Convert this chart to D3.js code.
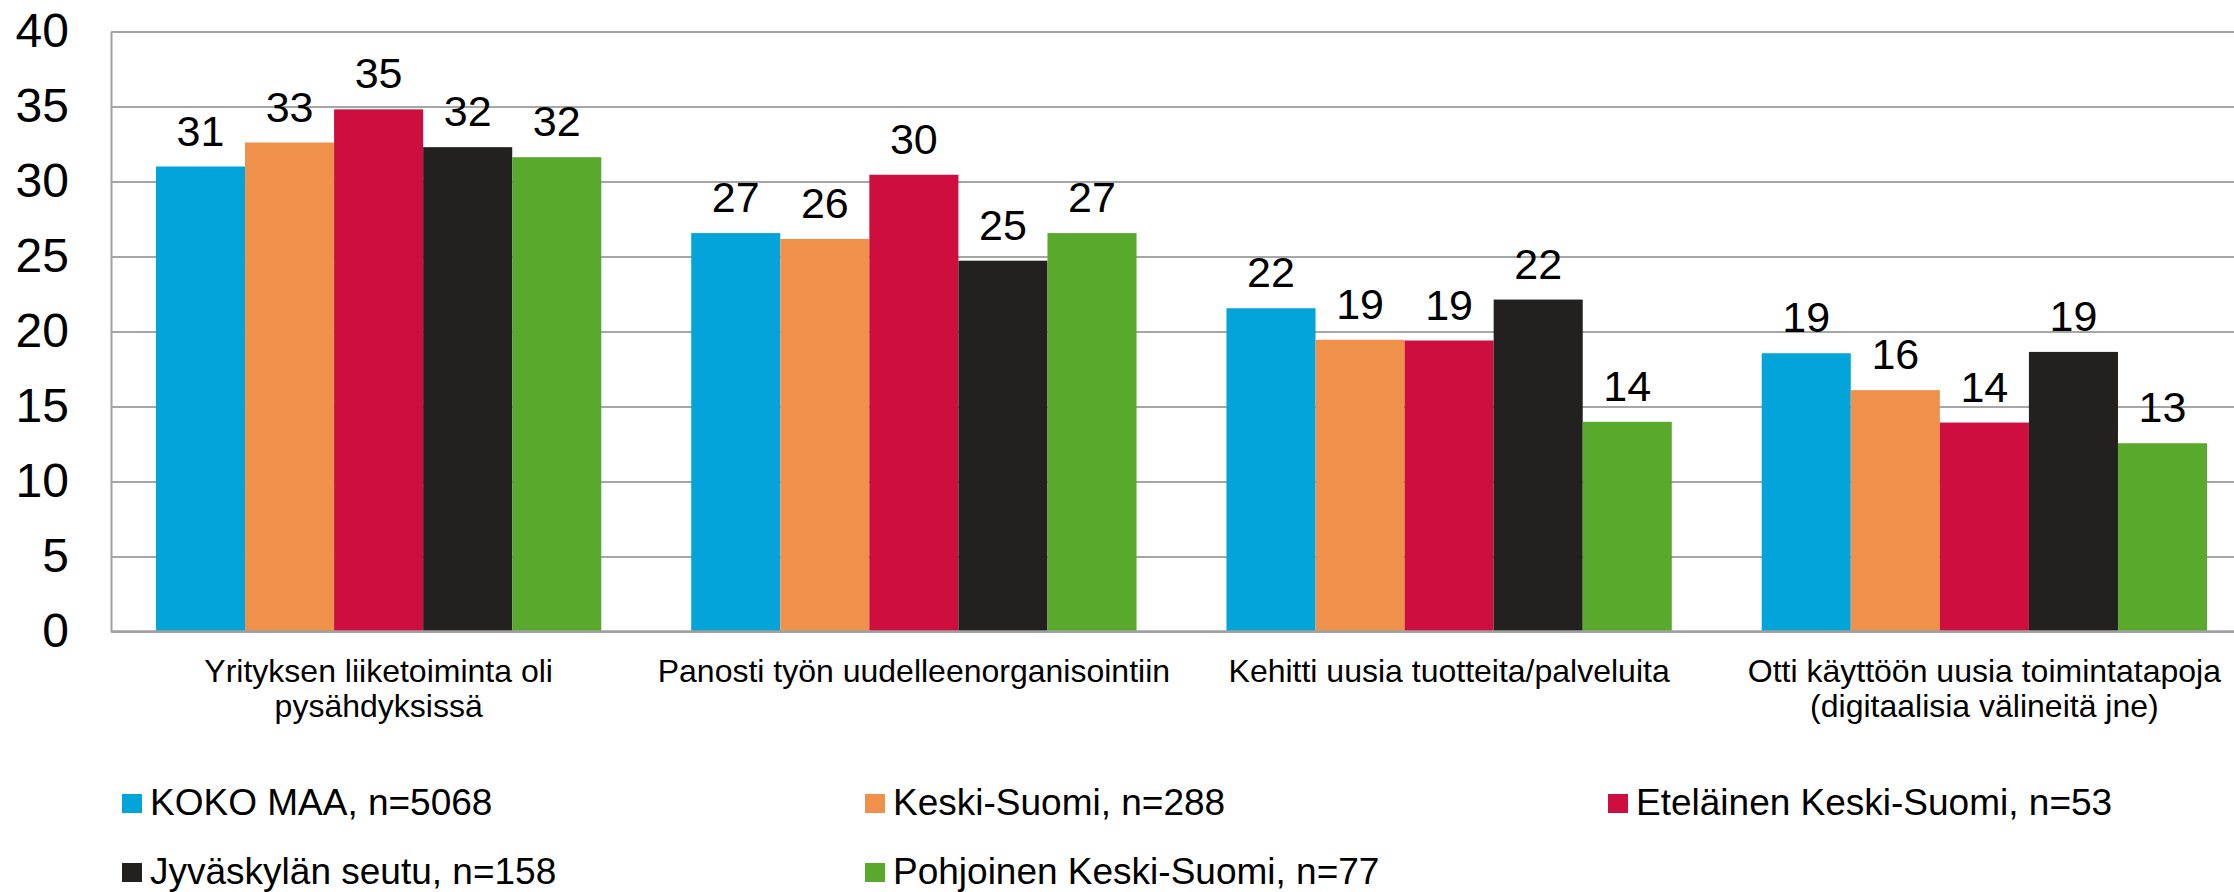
<!DOCTYPE html>
<html>
<head>
<meta charset="utf-8">
<script src="https://cdn.jsdelivr.net/npm/d3@7"></script>
<style>
  body { margin: 0; background: #fff; }
  text { font-family: "Liberation Sans", Arial, sans-serif; fill: #000; }
</style>
</head>
<body>
<div class="chart"></div>
<script>
// data
var categories = ["c1", "c2", "c3", "c4"];
var categoryLines = [
  ["Yrityksen liiketoiminta oli", "pysähdyksissä"],
  ["Panosti työn uudelleenorganisointiin"],
  ["Kehitti uusia tuotteita/palveluita"],
  ["Otti käyttöön uusia toimintatapoja", "(digitaalisia välineitä jne)"]
];
var seriesNames = ["KOKO MAA, n=5068", "Keski-Suomi, n=288", "Eteläinen Keski-Suomi, n=53",
  "Jyväskylän seutu, n=158", "Pohjoinen Keski-Suomi, n=77"];
var kokoMaa = [31.0, 26.56, 21.55, 18.55];
var keskiSuomi = [32.6, 26.17, 19.45, 16.09];
var etelainen = [34.81, 30.45, 19.4, 13.93];
var jyvaskyla = [32.29, 24.72, 22.13, 18.64];
var pohjoinen = [31.62, 26.56, 13.98, 12.55];
var yTicks = [0, 5, 10, 15, 20, 25, 30, 35, 40];

var seriesValues = [kokoMaa, keskiSuomi, etelainen, jyvaskyla, pohjoinen];
var colors = ["#02a4d9", "#f0914b", "#ce0e3f", "#22211f", "#58a92c"];

var margin = {top: 31.5, left: 111},
    width = 2141,
    height = 600;

var svg = d3.select(".chart").append("svg")
  .attr("width", 2234)
  .attr("height", 892);

var g = svg.append("g")
  .attr("transform", "translate(" + margin.left + "," + margin.top + ")");

var x0 = d3.scaleBand()
  .domain(categories)
  .range([0, width])
  .paddingInner(0.168)
  .paddingOuter(0.084);

var x1 = d3.scaleBand()
  .domain(seriesNames)
  .range([0, x0.bandwidth()]);

var y = d3.scaleLinear()
  .domain([0, 40])
  .range([height, 0]);

/* gridlines + y axis */
var yAxis = g.append("g")
  .call(d3.axisLeft(y).tickValues(yTicks).tickSize(-width).tickSizeOuter(0).tickPadding(42));
yAxis.select(".domain").attr("stroke", "#a0a0a0").attr("stroke-width", 2);
yAxis.selectAll(".tick line").attr("stroke", "#a6a6a6").attr("stroke-width", 2);
yAxis.selectAll(".tick text")
  .style("font-size", "48px")
  .attr("fill", "#000");

// bars
var rows = categories.map(function(c, i) {
  return seriesNames.map(function(s, j) {
    return {cat: c, series: s, value: seriesValues[j][i], color: colors[j]};
  });
});

var groups = g.selectAll(".group")
  .data(rows)
  .enter().append("g")
  .attr("class", "group")
  .attr("transform", function(d, i) { return "translate(" + x0(categories[i]) + ",0)"; });

groups.selectAll("rect")
  .data(function(d) { return d; })
  .enter().append("rect")
  .attr("x", function(d) { return x1(d.series); })
  .attr("width", x1.bandwidth())
  .attr("y", function(d) { return y(d.value); })
  .attr("height", function(d) { return height - y(d.value); })
  .attr("fill", function(d) { return d.color; });

groups.selectAll(".label")
  .data(function(d) { return d; })
  .enter().append("text")
  .attr("class", "label")
  .attr("x", function(d) { return x1(d.series) + x1.bandwidth() / 2; })
  .attr("y", function(d) { return y(d.value) - 21; })
  .attr("text-anchor", "middle")
  .style("font-size", "43px")
  .text(function(d) { return Math.round(d.value); });

// bottom axis line
g.append("line")
  .attr("x1", 0).attr("x2", width)
  .attr("y1", height).attr("y2", height)
  .attr("stroke", "#a0a0a0")
  .attr("stroke-width", 2.5);

// category labels
var catText = g.selectAll(".cat")
  .data(categories)
  .enter().append("text")
  .attr("class", "cat")
  .attr("text-anchor", "middle")
  .attr("x", function(d) { return x0(d) + x0.bandwidth() / 2; })
  .attr("y", height + 50)
  .style("font-size", "32px");
catText.selectAll("tspan")
  .data(function(d, i) { return categoryLines[i]; })
  .enter().append("tspan")
  .attr("x", function() { return this.parentNode.getAttribute("x"); })
  .attr("dy", function(d, i) { return i === 0 ? 0 : 35; })
  .text(function(d) { return d; });

/* legend */
var legend = svg.selectAll(".legend")
  .data(seriesNames)
  .enter().append("g")
  .attr("class", "legend")
  .attr("transform", function(d, i) {
    return "translate(" + (122 + (i % 3) * 743) + "," + (815 + Math.floor(i / 3) * 69) + ")";
  });
legend.append("rect")
  .attr("x", 0).attr("y", -21)
  .attr("width", 20).attr("height", 19)
  .attr("fill", function(d, i) { return colors[i]; });
legend.append("text")
  .attr("x", 28)
  .attr("y", 0)
  .style("font-size", "37px")
  .text(function(d) { return d; });
</script>
</body>
</html>
